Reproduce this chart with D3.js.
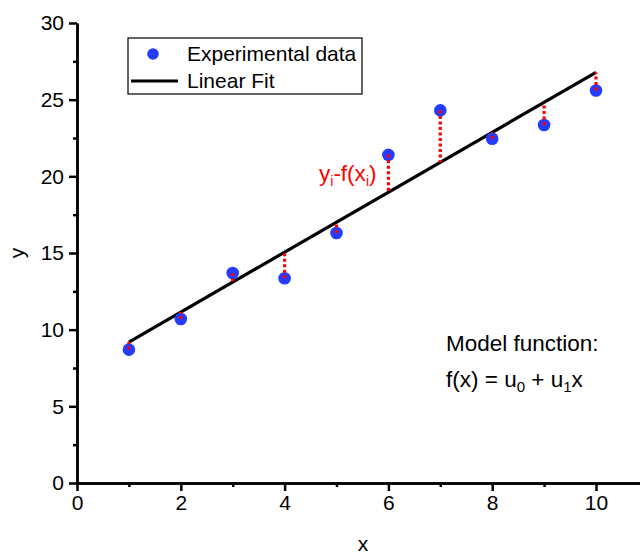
<!DOCTYPE html>
<html>
<head>
<meta charset="utf-8">
<script src="https://cdn.jsdelivr.net/npm/d3@7"></script>
<style>
  html, body { margin: 0; padding: 0; background: #fff; }
  svg { display: block; font-family: "Liberation Sans", Arial, sans-serif; }
</style>
</head>
<body>
<svg id="chart" width="640" height="554"></svg>
<script>
// Measured samples
const xValues = [1, 2, 3, 4, 5, 6, 7, 8, 9, 10];
const yValues = [8.7, 10.7, 13.7, 13.35, 16.3, 21.4, 24.3, 22.45, 23.35, 25.6];

// Axis ticks
const xMajorTicks = [0, 2, 4, 6, 8, 10];
const xMinorTicks = [1, 3, 5, 7, 9];
const yMajorTicks = [0, 5, 10, 15, 20, 25, 30];
const yMinorTicks = [2.5, 7.5, 12.5, 17.5, 22.5, 27.5];

const legendLabels = ["Experimental data", "Linear Fit"];

const blue = "#223dff";
const red = "#ff0000";
const fontSize = 21;

const svg = d3.select("#chart");

const x = d3.scaleLinear().domain([0, 11]).range([77, 77 + 11 * 51.9]);
const y = d3.scaleLinear().domain([0, 30]).range([483, 23]);

// Least-squares fit y = u0 + u1 x
const mx = d3.mean(xValues), my = d3.mean(yValues);
const u1 = d3.sum(xValues, (v, i) => (v - mx) * (yValues[i] - my)) /
           d3.sum(xValues, v => (v - mx) * (v - mx));
const u0 = my - u1 * mx;
const f = v => u0 + u1 * v;

// Axes
function styleAxis(g) {
  g.selectAll("path.domain").attr("stroke", "#000").attr("stroke-width", 2.5);
  g.selectAll(".tick line").attr("stroke", "#000").attr("stroke-width", 2.5);
  g.selectAll(".tick text").attr("fill", "#000").attr("font-size", fontSize)
    .attr("font-family", "Liberation Sans, Arial, sans-serif");
}

svg.append("g").attr("transform", `translate(0,${y(0)})`)
  .call(d3.axisBottom(x).tickValues(xMajorTicks).tickSize(8).tickPadding(4).tickSizeOuter(0))
  .call(styleAxis);
svg.append("g").attr("transform", `translate(0,${y(0)})`)
  .call(d3.axisBottom(x).tickValues(xMinorTicks).tickSize(4).tickFormat("").tickSizeOuter(0))
  .call(styleAxis);

svg.append("g").attr("transform", `translate(${x(0)},0)`)
  .call(d3.axisLeft(y).tickValues(yMajorTicks).tickSize(8).tickPadding(5).tickSizeOuter(0))
  .call(styleAxis);
svg.append("g").attr("transform", `translate(${x(0)},0)`)
  .call(d3.axisLeft(y).tickValues(yMinorTicks).tickSize(4).tickFormat("").tickSizeOuter(0))
  .call(styleAxis);

// Axis titles
svg.append("text").attr("x", 363).attr("y", 551).attr("text-anchor", "middle")
  .attr("font-size", fontSize).text("x");
svg.append("text").attr("transform", `translate(24,${y(15)}) rotate(-90)`)
  .attr("text-anchor", "middle").attr("font-size", fontSize).text("y");

// Fit line
const fitLine = d3.line().x(d => x(d)).y(d => y(f(d)));
svg.append("path").datum([d3.min(xValues), d3.max(xValues)])
  .attr("d", fitLine).attr("fill", "none").attr("stroke", "#000").attr("stroke-width", 3.2);

// Data points
svg.append("g").selectAll("circle").data(xValues).join("circle")
  .attr("cx", d => x(d)).attr("cy", (d, i) => y(yValues[i]))
  .attr("r", 6.3).attr("fill", blue);

// Residuals
svg.append("g").selectAll("line").data(xValues).join("line")
  .attr("x1", d => x(d)).attr("x2", d => x(d))
  .attr("y1", (d, i) => y(yValues[i])).attr("y2", d => y(f(d)))
  .attr("stroke", red).attr("stroke-width", 3.2).attr("stroke-dasharray", "3,2.5");

// Residual label
const resLabel = svg.append("text").attr("x", 319).attr("y", 181)
  .attr("font-size", 22.5).attr("fill", red);
resLabel.append("tspan").text("y");
resLabel.append("tspan").attr("font-size", 14).attr("dy", 5).text("i");
resLabel.append("tspan").attr("dy", -5).text("-f(x");
resLabel.append("tspan").attr("font-size", 14).attr("dy", 5).text("i");
resLabel.append("tspan").attr("dy", -5).text(")");

// Model function text
const modelSize = 22.5;
svg.append("text").attr("x", 446).attr("y", 351).attr("font-size", modelSize)
  .text("Model function:");
const model = svg.append("text").attr("x", 446).attr("y", 387).attr("font-size", modelSize);
model.append("tspan").text("f(x) = u");
model.append("tspan").attr("font-size", 15).attr("dy", 5).text("0");
model.append("tspan").attr("dy", -5).text(" + u");
model.append("tspan").attr("font-size", 15).attr("dy", 5).text("1");
model.append("tspan").attr("dy", -5).text("x");

// Legend
const legend = svg.append("g");
legend.append("rect").attr("x", 128).attr("y", 38).attr("width", 234).attr("height", 56)
  .attr("fill", "#fff").attr("stroke", "#000").attr("stroke-width", 1.2);
legend.append("circle").attr("cx", 153).attr("cy", 54).attr("r", 5.8).attr("fill", blue);
legend.append("line").attr("x1", 131).attr("x2", 178).attr("y1", 81).attr("y2", 81)
  .attr("stroke", "#000").attr("stroke-width", 3);
legend.selectAll("text.lbl").data(legendLabels).join("text").attr("class", "lbl")
  .attr("x", 187).attr("y", (d, i) => 61 + i * 27)
  .attr("font-size", fontSize).text(d => d);
</script>
</body>
</html>
